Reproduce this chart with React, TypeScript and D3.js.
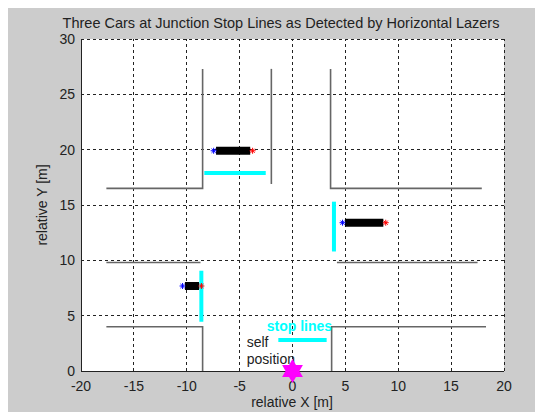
import React from "react";
import * as d3 from "d3";

// Road edges at the junction, each a polyline in metres (x, y)
const roadEdges: [number, number][][] = [
  [[-17.6, 16.5], [-8.5, 16.5], [-8.5, 27.3]],
  [[-2.0, 27.3], [-2.0, 16.9]],
  [[3.6, 27.3], [3.6, 16.5], [17.9, 16.5]],
  [[-17.6, 9.8], [-8.7, 9.8]],
  [[4.2, 9.8], [17.5, 9.8]],
  [[-17.6, 4.0], [-8.5, 4.0], [-8.5, 0]],
  [[3.7, 0], [3.7, 4.0], [18.3, 4.0]],
];

// Stop lines in front of each approach
const stopLines: [number, number][][] = [
  [[-8.34, 17.9], [-2.53, 17.9]],
  [[3.92, 15.3], [3.92, 10.8]],
  [[-8.62, 9.06], [-8.62, 4.45]],
  [[-1.34, 2.8], [3.23, 2.8]],
];

// Detected cars: rear x, front x, lateral y
const carRearX = [-7.23, 4.96, -10.17];
const carFrontX = [-4.0, 8.59, -8.84];
const carY = [19.9, 13.4, 7.68];

const xTicks = [-20, -15, -10, -5, 0, 5, 10, 15, 20];
const yTicks = [0, 5, 10, 15, 20, 25, 30];

const titleText = "Three Cars at Junction Stop Lines as Detected by Horizontal Lazers";
const xLabel = "relative X [m]";
const yLabel = "relative Y [m]";
const stopLabel = { text: "stop lines", x: -2.44, y: 3.6 };
const selfLabel = { lines: ["self", "position"], x: -4.33, y: 2.17 };
const selfPos: [number, number] = [0, 0];

const FONT = "'Liberation Sans', Arial, Helvetica, sans-serif";

export default function App() {
  // page-space layout (svg sits inside the 8px body margin)
  const W = 535, H = 404, off = 8;
  const x = d3.scaleLinear().domain([-20, 20]).range([81, 504]);
  const y = d3.scaleLinear().domain([0, 30]).range([371, 39]);
  const line = d3.line<[number, number]>().x((d) => x(d[0])).y((d) => y(d[1]));

  // six-pointed marker for the own vehicle
  const R = 12, r = R / Math.sqrt(3);
  const hexPts: [number, number][] = d3.range(12).map((i) => {
    const a = -Math.PI / 2 + (i * Math.PI) / 6;
    const rad = i % 2 === 0 ? R : r;
    return [Math.cos(a) * rad, Math.sin(a) * rad];
  });
  const hexPath = d3.line().curve(d3.curveLinearClosed)(hexPts) as string;

  const asterisk = (cx: number, cy: number, color: string, key: string) => {
    const s = 3;
    const d = `M${cx - s},${cy}L${cx + s},${cy}M${cx},${cy - s}L${cx},${cy + s}` +
      `M${cx - s * 0.7},${cy - s * 0.7}L${cx + s * 0.7},${cy + s * 0.7}` +
      `M${cx - s * 0.7},${cy + s * 0.7}L${cx + s * 0.7},${cy - s * 0.7}`;
    return <path key={key} d={d} stroke={color} strokeWidth={1} fill="none" />;
  };

  return (
    <svg width={W} height={H} style={{ display: "block" }}>
      <g transform={`translate(${-off},${-off})`} fontFamily={FONT}>
        <rect x={off} y={off} width={W} height={H} fill="#cccccc" />
        <rect x={x(-20)} y={y(30)} width={x(20) - x(-20)} height={y(0) - y(30)} fill="#ffffff" />

        {/* grid */}
        <g stroke="#222" strokeWidth={1} strokeDasharray="3,3" shapeRendering="crispEdges">
          {xTicks.filter((t) => t !== -20).map((t) => (
            <line key={"gx" + t} x1={x(t)} x2={x(t)} y1={y(0)} y2={y(30)} />
          ))}
          {yTicks.filter((t) => t !== 0).map((t) => (
            <line key={"gy" + t} x1={x(-20)} x2={x(20)} y1={y(t)} y2={y(t)} />
          ))}
        </g>

        {/* axes */}
        <g stroke="#222" strokeWidth={1} shapeRendering="crispEdges">
          <line x1={x(-20)} x2={x(-20)} y1={y(0)} y2={y(30)} />
          <line x1={x(-20)} x2={x(20)} y1={y(0)} y2={y(0)} />
        </g>

        {/* tick labels */}
        <g fontSize={14} fill="#222">
          {xTicks.map((t) => (
            <text key={"tx" + t} x={x(t)} y={391} textAnchor="middle">{t}</text>
          ))}
          {yTicks.map((t) => (
            <text key={"ty" + t} x={75} y={y(t)} dy="0.35em" textAnchor="end">{t}</text>
          ))}
        </g>

        {/* road edges */}
        <g fill="none" stroke="#666666" strokeWidth={1.6}>
          {roadEdges.map((pts, i) => <path key={"r" + i} d={line(pts) as string} />)}
        </g>

        {/* stop lines */}
        <g fill="none" stroke="#00ffff" strokeWidth={4}>
          {stopLines.map((pts, i) => <path key={"s" + i} d={line(pts) as string} />)}
        </g>

        {/* cars */}
        {carY.map((cy, i) => (
          <g key={"car" + i}>
            <line x1={x(carRearX[i])} x2={x(carFrontX[i])} y1={y(cy)} y2={y(cy)} stroke="#000" strokeWidth={8} />
            {asterisk(x(carRearX[i]) - 2.4, y(cy), "#0000ff", "b" + i)}
            {asterisk(x(carFrontX[i]) + 2.4, y(cy), "#ff0000", "f" + i)}
          </g>
        ))}

        {/* annotations */}
        <text x={x(stopLabel.x)} y={y(stopLabel.y)} fontSize={14} fontWeight="bold" fill="#00ffff">{stopLabel.text}</text>
        <text x={x(selfLabel.x)} y={y(selfLabel.y)} fontSize={14} fill="#222">
          {selfLabel.lines.map((s, i) => (
            <tspan key={s} x={x(selfLabel.x)} dy={i === 0 ? 0 : 17}>{s}</tspan>
          ))}
        </text>

        <path d={hexPath} transform={`translate(${x(selfPos[0])},${y(selfPos[1])})`} fill="#ff00ff" />

        {/* titles */}
        <text x={281} y={27.5} fontSize={14.5} textAnchor="middle" fill="#222">{titleText}</text>
        <text x={292} y={407} fontSize={14} textAnchor="middle" fill="#222">{xLabel}</text>
        <text transform={`translate(47,205) rotate(-90)`} fontSize={14} textAnchor="middle" fill="#222">{yLabel}</text>
      </g>
    </svg>
  );
}
